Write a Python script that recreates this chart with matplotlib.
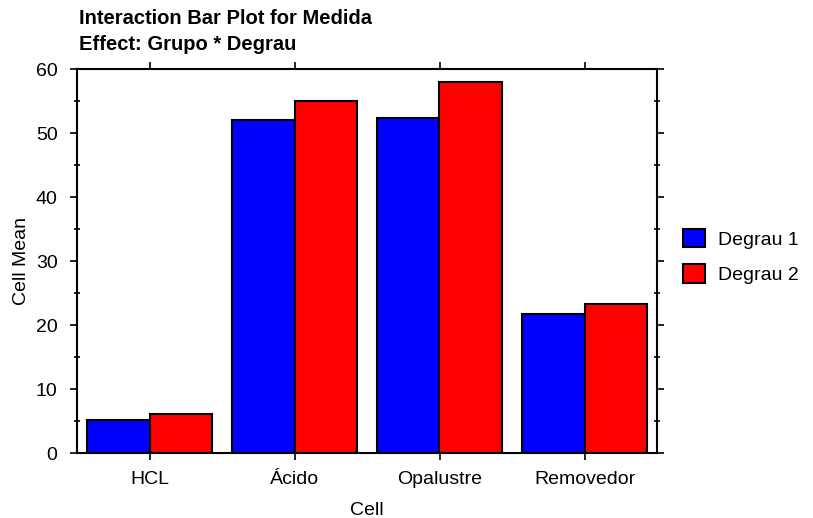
import matplotlib
matplotlib.use("Agg")
import matplotlib.pyplot as plt
import numpy as np
from matplotlib.ticker import MultipleLocator

plt.rcParams['font.family'] = ['Liberation Sans', 'DejaVu Sans']

categories = ["HCL", "Ácido", "Opalustre", "Removedor"]
degrau1 = [5.2, 52.0, 52.3, 21.7]
degrau2 = [6.1, 55.0, 58.0, 23.3]
series_names = ["Degrau 1", "Degrau 2"]
yticks = [0, 10, 20, 30, 40, 50, 60]

fig = plt.figure(figsize=(8.13, 5.18), dpi=100)
ax = fig.add_axes([77/813, 1 - 453/518, 580/813, (453-69)/518])

x = np.arange(len(categories))
w = 0.43
ax.bar(x - w/2, degrau1, width=w, color="#0000FF", edgecolor="black", linewidth=1.5, label=series_names[0])
ax.bar(x + w/2, degrau2, width=w, color="#FF0000", edgecolor="black", linewidth=1.5, label=series_names[1])

ax.set_xlim(-0.5, len(categories) - 0.5)
ax.set_ylim(0, 60)
ax.set_xticks(x)
ax.set_xticklabels(categories, fontsize=14)
ax.set_yticks(yticks)
ax.set_yticklabels([str(v) for v in yticks], fontsize=14)
ax.yaxis.set_minor_locator(MultipleLocator(5))
ax.tick_params(axis='both', which='major', direction='out', length=5, width=1.2,
               top=True, right=True)
ax.tick_params(axis='x', which='major', pad=8)
ax.tick_params(axis='y', which='major', pad=9)
ax.tick_params(axis='y', which='minor', direction='inout', length=5, width=1.2,
               left=True, right=True)
for s in ax.spines.values():
    s.set_linewidth(1.5)

ax.set_xlabel("Cell", fontsize=14, labelpad=10)
ax.set_ylabel("Cell Mean", fontsize=14, labelpad=4)

fig.text(79/813, 1 - 18/518, "Interaction Bar Plot for Medida", fontsize=14.5,
         fontweight='bold', ha='left', va='center')
fig.text(79/813, 1 - 44/518, "Effect: Grupo * Degrau", fontsize=14.5,
         fontweight='bold', ha='left', va='center')

leg = ax.legend(loc='center left', bbox_to_anchor=(1.028, 0.512), frameon=False,
                fontsize=14, handlelength=1.15, handleheight=1.1, borderpad=0,
                handletextpad=0.65, labelspacing=0.8)

fig.savefig("out.png", dpi=100)
